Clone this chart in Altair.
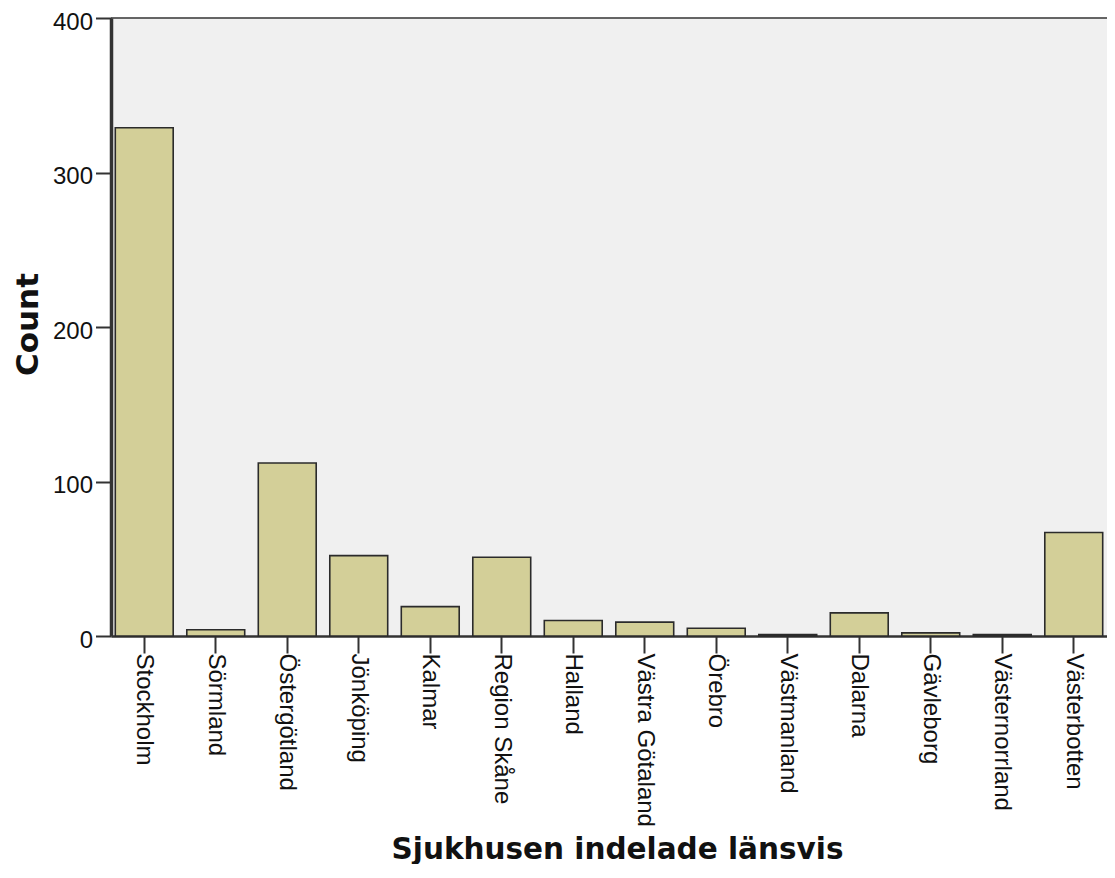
import altair as alt
import pandas as pd

regions = ["Stockholm", "Sörmland", "Östergötland", "Jönköping", "Kalmar",
           "Region Skåne", "Halland", "Västra Götaland", "Örebro", "Västmanland",
           "Dalarna", "Gävleborg", "Västernorrland", "Västerbotten"]
counts = [329, 4, 112, 52, 19, 51, 10, 9, 5, 1, 15, 2, 1, 67]
y_ticks = [0, 100, 200, 300, 400]

df = pd.DataFrame({"region": regions, "count": counts})
PLOT_W = 996

bars = alt.Chart(df).mark_bar(
    fill="#d3cf98", stroke="#2b2b2b", strokeWidth=1.6
).encode(
    x=alt.X("region:N", sort=regions,
            scale=alt.Scale(paddingInner=0.19, paddingOuter=0.06),
            axis=alt.Axis(title="Sjukhusen indelade länsvis", labelAngle=90,
                          labelAlign="left", labelBaseline="middle",
                          labelFont="Liberation Sans", labelFontSize=24,
                          labelColor="#111", labelPadding=0,
                          tickSize=17, tickWidth=2, tickColor="#333",
                          domainColor="#333", domainWidth=2.5,
                          titleFont="DejaVu Sans", titleFontWeight="bold",
                          titleFontSize=29.5, titleColor="#111",
                          titleBaseline="alphabetic", titleAlign="center",
                          titleX=506, titleY=222, labelOverlap=False)),
    y=alt.Y("count:Q", scale=alt.Scale(domain=[0, 400], nice=False),
            axis=alt.Axis(title="Count", values=y_ticks, grid=False,
                          labelFont="Liberation Sans", labelFontSize=24,
                          labelColor="#111", labelPadding=3, labelOffset=4,
                          labelFlush=False, labelBound=False,
                          tickSize=15.5, tickWidth=2, tickColor="#333",
                          domainColor="#333", domainWidth=3.5,
                          titleFont="DejaVu Sans", titleFontWeight="bold",
                          titleFontSize=31, titleColor="#111",
                          titleAngle=270, titleBaseline="alphabetic",
                          titleAlign="center", titleX=-74, titleY=306)),
)

top_line = alt.Chart(pd.DataFrame({"k": [0]})).mark_rule(
    color="#333", strokeWidth=1.5
).encode(x=alt.value(0), x2=alt.value(PLOT_W + 10), y=alt.value(0))

chart = alt.layer(bars, top_line).properties(
    width=PLOT_W, height=618,
    autosize=alt.AutoSizeParams(type="none"),
    padding={"left": 103, "top": 10, "right": 0, "bottom": 228},
).configure_view(
    fill="#f0f0f0", stroke="transparent"
)

chart.save("out.html", embed_options={"renderer": "svg", "actions": False})
